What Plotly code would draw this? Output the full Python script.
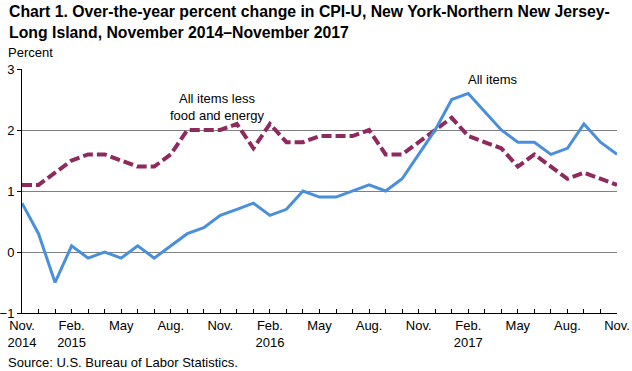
import plotly.graph_objects as go

months = ["Nov 2014","Dec 2014","Jan 2015","Feb 2015","Mar 2015","Apr 2015","May 2015","Jun 2015",
          "Jul 2015","Aug 2015","Sep 2015","Oct 2015","Nov 2015","Dec 2015","Jan 2016","Feb 2016",
          "Mar 2016","Apr 2016","May 2016","Jun 2016","Jul 2016","Aug 2016","Sep 2016","Oct 2016",
          "Nov 2016","Dec 2016","Jan 2017","Feb 2017","Mar 2017","Apr 2017","May 2017","Jun 2017",
          "Jul 2017","Aug 2017","Sep 2017","Oct 2017","Nov 2017"]
all_items = [0.8, 0.3, -0.5, 0.1, -0.1, 0.0, -0.1, 0.1, -0.1, 0.1, 0.3, 0.4, 0.6, 0.7, 0.8, 0.6,
             0.7, 1.0, 0.9, 0.9, 1.0, 1.1, 1.0, 1.2, 1.6, 2.0, 2.5, 2.6, 2.3, 2.0, 1.8, 1.8,
             1.6, 1.7, 2.1, 1.8, 1.6]
core = [1.1, 1.1, 1.3, 1.5, 1.6, 1.6, 1.5, 1.4, 1.4, 1.6, 2.0, 2.0, 2.0, 2.1, 1.7, 2.1,
        1.8, 1.8, 1.9, 1.9, 1.9, 2.0, 1.6, 1.6, 1.8, 2.0, 2.2, 1.9, 1.8, 1.7, 1.4, 1.6,
        1.4, 1.2, 1.3, 1.2, 1.1]
tick_labels = {0: "Nov.<br>2014", 3: "Feb.<br>2015", 6: "May", 9: "Aug.", 12: "Nov.",
               15: "Feb.<br>2016", 18: "May", 21: "Aug.", 24: "Nov.", 27: "Feb.<br>2017",
               30: "May", 33: "Aug.", 36: "Nov."}

x = list(range(len(months)))
FONT = "Liberation Sans, Arial, sans-serif"

fig = go.Figure()
fig.add_trace(go.Scatter(x=x, y=core, mode="lines", name="All items less food and energy",
                         line=dict(color="#8E2A5E", width=4, dash="10px,4px"),
                         customdata=months, hovertemplate="%{customdata}: %{y}<extra></extra>"))
fig.add_trace(go.Scatter(x=x, y=all_items, mode="lines", name="All items",
                         line=dict(color="#4A8FDB", width=3),
                         customdata=months, hovertemplate="%{customdata}: %{y}<extra></extra>"))

fig.update_layout(
    width=632, height=371,
    margin=dict(l=22, r=15, t=69, b=58, autoexpand=False),
    paper_bgcolor="white", plot_bgcolor="white",
    showlegend=False,
    font=dict(family=FONT, size=13, color="black"),
    xaxis=dict(range=[0, 36], tickvals=x, automargin=False,
               ticktext=[tick_labels.get(i, "") for i in x],
               ticks="inside", ticklen=4, tickcolor="black", tickwidth=1,
               showgrid=False, showline=True, linecolor="black", linewidth=1,
               zeroline=False, tickfont=dict(size=13)),
    yaxis=dict(range=[-1, 3], tickvals=[-1, 0, 1, 2, 3], automargin=False,
               ticks="outside", ticklen=4, tickcolor="black",
               showgrid=True, gridcolor="#808080", gridwidth=1,
               showline=True, linecolor="black", linewidth=1,
               zeroline=False, tickfont=dict(size=13)),
)

fig.add_annotation(text="<b>Chart 1. Over-the-year percent change in CPI-U, New York-Northern New Jersey-<br>Long Island, November 2014\u2013November 2017</b>",
                   xref="paper", yref="paper", x=-15/595, y=1 + 68/244, xanchor="left", yanchor="top",
                   align="left", showarrow=False, font=dict(size=15.8, family=FONT))
fig.add_annotation(text="Percent", xref="paper", yref="paper", x=-16/595, y=1 + 7/244,
                   xanchor="left", yanchor="bottom", showarrow=False, font=dict(size=13))
fig.add_annotation(text="Source: U.S. Bureau of Labor Statistics.", xref="paper", yref="paper",
                   x=-16/595, y=-40/244, xanchor="left", yanchor="top", showarrow=False,
                   font=dict(size=13))
fig.add_annotation(text="All items less<br>food and energy", x=11.8, y=2.37, xref="x", yref="y",
                   showarrow=False, align="center", font=dict(size=13))
fig.add_annotation(text="All items", x=28.5, y=2.83, xref="x", yref="y",
                   showarrow=False, align="center", font=dict(size=13))

fig.write_html("out.html", config={"displayModeBar": False},
               post_script="document.body.style.margin='0';document.body.style.overflow='hidden';")
